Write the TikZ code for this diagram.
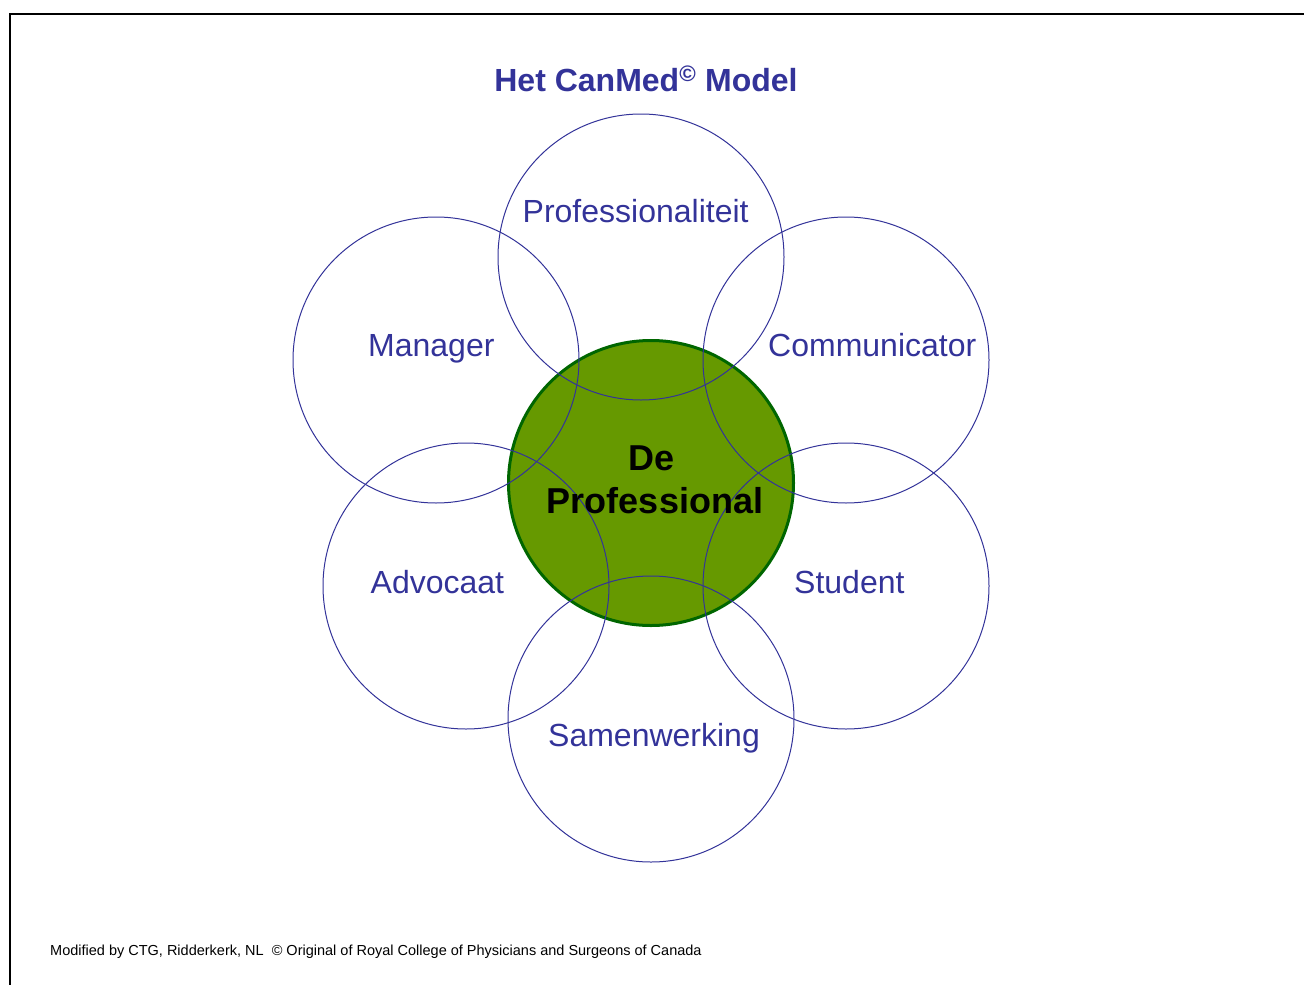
\documentclass[tikz,border=0pt]{standalone}
\usepackage{fontspec}
\setmainfont{Liberation Sans}
\usetikzlibrary{positioning}
\definecolor{canblue}{RGB}{51,51,153}
\definecolor{coregreen}{RGB}{102,153,0}
\definecolor{coreedge}{RGB}{0,102,0}

\begin{document}
\begin{tikzpicture}[x=1pt,y=-1pt,
    role/.style={circle,draw=canblue,line width=1pt,minimum size=286pt,inner sep=0pt},
    core/.style={circle,fill=coregreen,draw=coreedge,line width=3pt,minimum size=285pt,inner sep=0pt},
    rolename/.style={anchor=base west,inner sep=0pt,text=canblue,font=\fontsize{32}{38}\selectfont},
    corename/.style={anchor=base,inner sep=0pt,font=\fontsize{36}{43}\selectfont\bfseries}]
    \useasboundingbox (0,0) rectangle (1304,985);
    \draw[line width=1.5pt] (10,985) |- (1304,14);

    \node[core] (centre) at (651,483) {};

    \node[role] (prof)  at (641,257) {};
    \node[role] (mgr)   at (436,360) {};
    \node[role] (comm)  at (846,360) {};
    \node[role] (adv)   at (466,586) {};
    \node[role] (stud)  at (846,586) {};
    \node[role] (samen) at (651,719) {};

    \node[rolename] (profname)  at (522.5,222.7) {Professionaliteit};
    \node[rolename] (mgrname)   at (368,356.7)   {Manager};
    \node[rolename] (commname)  at (768,356)     {Communicator};
    \node[rolename] (advname)   at (370.5,593.3) {Advocaat};
    \node[rolename] (studname)  at (794,593.3)   {Student};
    \node[rolename] (samenname) at (548,746.7)   {Samenwerking};

    \node[corename] (dename)   at (651.5,470) {De};
    \node[corename] (profcore) at (655,513)   {Professional};

    \node[anchor=base,inner sep=0pt,text=canblue,font=\fontsize{32}{38}\selectfont\bfseries]
        (title) at (646,91) {Het CanMed\textsuperscript{©} Model};
    \node[anchor=base west,inner sep=0pt,font=\fontsize{14.5}{17}\selectfont]
        (credit) at (50,955) {Modified by CTG, Ridderkerk, NL\ \ © Original of Royal College of Physicians and Surgeons of Canada};
\end{tikzpicture}
\end{document}
